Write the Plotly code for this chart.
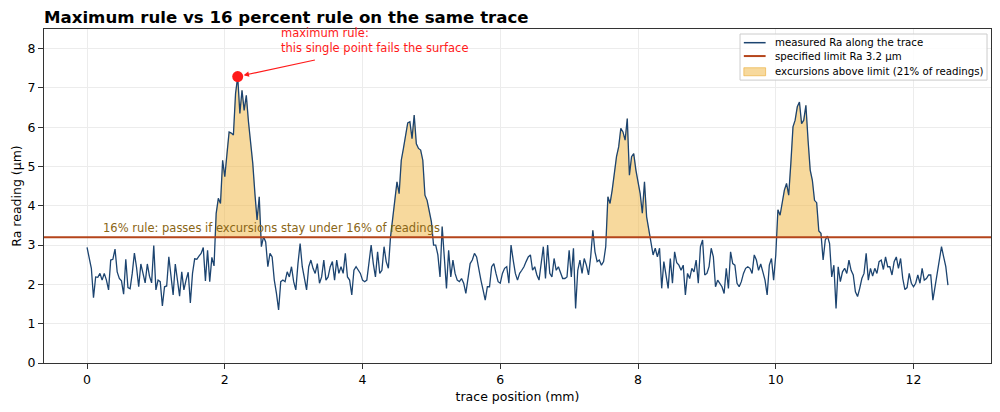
import numpy as np
import plotly.graph_objects as go

# Ra readings along the trace (um), evenly spaced from 0 to 12.5 mm
trace_length_mm = 12.5
ra_readings = [
    2.94, 2.62, 2.41, 1.66, 2.19, 2.18, 2.28, 2.11, 2.28, 2.11,
    1.86, 2.62, 2.64, 2.90, 2.32, 2.15, 2.09, 1.75, 2.64, 1.92,
    1.89, 2.28, 2.80, 2.43, 1.94, 2.52, 2.28, 2.04, 2.52, 2.21,
    2.04, 2.99, 1.86, 2.11, 2.07, 1.45, 1.94, 1.96, 2.70, 2.28,
    1.73, 2.52, 2.03, 1.70, 2.32, 1.86, 2.11, 2.31, 1.53, 2.28,
    2.65, 2.64, 2.72, 2.79, 2.94, 2.09, 2.87, 2.07, 2.69, 2.47,
    3.81, 4.19, 4.06, 5.16, 4.74, 5.42, 5.88, 5.85, 5.80, 6.86,
    7.29, 6.35, 6.94, 6.43, 6.81, 6.14, 5.63, 5.08, 4.31, 3.64,
    4.23, 2.96, 3.21, 3.08, 2.45, 2.79, 2.70, 2.11, 1.77, 1.35,
    2.07, 2.11, 2.07, 2.32, 2.19, 2.45, 2.07, 1.86, 2.53, 3.04,
    2.45, 2.11, 1.86, 2.45, 2.62, 2.41, 2.28, 2.53, 2.03, 2.19,
    2.62, 2.11, 2.19, 2.45, 2.58, 2.11, 2.62, 2.28, 2.45, 2.28,
    2.79, 2.19, 2.11, 1.73, 2.36, 2.45, 2.36, 2.28, 2.11, 2.07,
    2.11, 2.62, 3.00, 2.53, 2.19, 2.83, 2.28, 2.36, 2.96, 2.58,
    2.41, 3.21, 3.64, 4.14, 4.61, 4.31, 5.16, 5.46, 5.80, 6.11,
    6.14, 5.71, 6.31, 5.58, 5.46, 5.42, 5.16, 4.27, 4.14, 3.85,
    3.59, 3.00, 3.00, 2.75, 2.19, 3.47, 2.70, 1.90, 2.87, 2.19,
    2.62, 2.28, 2.11, 2.07, 2.15, 2.03, 1.77, 2.11, 2.53, 2.62,
    2.79, 2.70, 2.36, 2.11, 1.86, 1.60, 1.94, 1.94, 2.45, 2.53,
    2.28, 2.07, 2.03, 2.28, 2.41, 2.45, 2.03, 3.00, 2.62, 2.28,
    2.11, 2.28, 2.36, 2.45, 2.58, 2.70, 2.75, 2.36, 2.45, 2.24,
    2.11, 2.62, 2.96, 2.15, 3.00, 2.28, 2.19, 2.66, 2.36, 2.45,
    2.28, 2.15, 2.15, 2.19, 2.87, 2.19, 2.92, 1.39, 2.36, 2.62,
    2.28, 2.66, 2.49, 2.24, 2.70, 3.38, 2.83, 2.58, 2.62, 2.49,
    2.58, 2.96, 4.23, 4.06, 4.40, 4.82, 5.25, 5.50, 5.97, 5.88,
    5.67, 6.22, 4.78, 5.25, 5.33, 4.91, 4.61, 4.31, 3.81, 4.61,
    3.72, 3.38, 3.13, 2.75, 2.92, 2.70, 2.92, 1.90, 2.58, 2.19,
    1.90, 2.66, 2.03, 2.83, 2.55, 2.49, 2.36, 2.49, 1.73, 2.28,
    2.15, 2.41, 2.32, 2.62, 2.03, 2.96, 3.13, 2.24, 2.28, 2.45,
    2.92, 2.70, 1.94, 2.11, 2.03, 1.94, 1.77, 2.41, 1.90, 2.83,
    2.53, 2.49, 2.03, 1.94, 2.07, 2.28, 2.41, 2.45, 2.41, 2.28,
    2.75, 2.62, 2.36, 2.52, 2.32, 2.11, 1.73, 2.49, 2.66, 2.11,
    2.75, 3.90, 3.76, 4.10, 4.40, 4.57, 4.27, 5.08, 6.01, 6.18,
    6.52, 6.64, 6.09, 6.18, 6.56, 5.67, 4.91, 4.65, 4.14, 4.08,
    3.36, 3.30, 2.62, 3.13, 3.23, 3.04, 2.19, 2.49, 1.39, 2.45,
    2.07, 2.32, 2.41, 2.28, 2.62, 2.36, 2.24, 1.81, 1.69, 1.90,
    2.15, 2.28, 2.79, 2.11, 2.41, 2.21, 2.41, 2.28, 2.58, 2.62,
    2.38, 2.70, 2.45, 2.45, 2.24, 2.58, 2.70, 2.41, 2.66, 2.15,
    1.87, 1.92, 2.28, 2.03, 1.94, 2.03, 2.24, 2.03, 2.41, 2.11,
    2.15, 2.24, 2.24, 1.60, 1.94, 2.36, 2.62, 2.96, 2.70, 2.45,
    1.98,
]
ra_limit = 3.2
x_ticks = [0, 2, 4, 6, 8, 10, 12]
y_ticks = [0, 1, 2, 3, 4, 5, 6, 7, 8]

trace_color = '#1c4470'
limit_color = '#b5451b'
fill_color = 'rgba(240,180,60,0.5)'
fill_edge = 'rgba(235,170,50,0.6)'
red = '#ff1a1a'

ra = np.array(ra_readings)
pos = np.linspace(0, trace_length_mm, len(ra))
above = ra > ra_limit
pct_above = 100 * above.mean()

# build the excursion polygons (fill between trace and limit where trace is above)
fx, fy = [], []
i = 0
n = len(ra)
while i < n:
    if not above[i]:
        i += 1
        continue
    j = i
    while j + 1 < n and above[j + 1]:
        j += 1
    seg_x, seg_y = [], []
    if i > 0:
        t = (ra_limit - ra[i - 1]) / (ra[i] - ra[i - 1])
        seg_x.append(pos[i - 1] + t * (pos[i] - pos[i - 1]))
    else:
        seg_x.append(pos[i])
    seg_y.append(ra_limit)
    seg_x += list(pos[i:j + 1])
    seg_y += list(ra[i:j + 1])
    if j < n - 1:
        t = (ra_limit - ra[j]) / (ra[j + 1] - ra[j])
        seg_x.append(pos[j] + t * (pos[j + 1] - pos[j]))
    else:
        seg_x.append(pos[j])
    seg_y.append(ra_limit)
    fx += seg_x + [None]
    fy += seg_y + [None]
    i = j + 1

peak = int(np.argmax(ra))

fig = go.Figure()

fig.add_trace(go.Scatter(
    x=fx, y=fy, mode='lines', fill='toself',
    fillcolor=fill_color, line=dict(color=fill_edge, width=0.5),
    showlegend=False, hoverinfo='skip'
))

fig.add_trace(go.Scatter(
    x=pos, y=ra, mode='lines',
    line=dict(color=trace_color, width=1.3),
    showlegend=False
))

fig.add_trace(go.Scatter(
    x=[-0.625, 13.125], y=[ra_limit, ra_limit], mode='lines',
    line=dict(color=limit_color, width=2),
    showlegend=False
))

fig.add_trace(go.Scatter(
    x=[pos[peak]], y=[ra[peak]], mode='markers',
    marker=dict(color=red, size=11),
    showlegend=False
))

# arrow to the worst reading
fig.add_annotation(
    x=pos[peak], y=ra[peak], ax=3.33, ay=7.72, axref='x', ayref='y',
    text='', showarrow=True, arrowhead=2, arrowsize=0.9, arrowwidth=1.2,
    arrowcolor=red, standoff=6
)
fig.add_annotation(
    x=2.78, y=8.22, xanchor='left', yanchor='middle', showarrow=False,
    text='maximum rule:<br>this single point fails the surface', align='left',
    font=dict(family='DejaVu Sans', size=11.5, color=red)
)
fig.add_annotation(
    x=0.2, y=3.43, xanchor='left', yanchor='middle', showarrow=False,
    text='16% rule: passes if excursions stay under 16% of readings',
    font=dict(family='DejaVu Sans', size=11.5, color='#8a6616')
)

# legend drawn by hand (matplotlib-style compact spacing)
legend_labels = [
    'measured Ra along the trace',
    f'specified limit Ra {ra_limit} µm',
    f'excursions above limit ({pct_above:.0f}% of readings)',
]
fig.add_shape(type='rect', xref='paper', yref='paper',
              x0=0.735, x1=0.9958, y0=0.847, y1=0.985,
              fillcolor='rgba(255,255,255,0.85)',
              line=dict(color='#cccccc', width=1))
row_y = [0.959, 0.919, 0.872]
fig.add_shape(type='line', xref='paper', yref='paper',
              x0=0.739, x1=0.762, y0=row_y[0], y1=row_y[0],
              line=dict(color=trace_color, width=1.5))
fig.add_shape(type='line', xref='paper', yref='paper',
              x0=0.739, x1=0.762, y0=row_y[1], y1=row_y[1],
              line=dict(color=limit_color, width=2))
fig.add_shape(type='rect', xref='paper', yref='paper',
              x0=0.739, x1=0.762, y0=row_y[2] - 0.012, y1=row_y[2] + 0.012,
              fillcolor=fill_color, line=dict(color=fill_edge, width=1))
for label, yy in zip(legend_labels, row_y):
    fig.add_annotation(
        x=0.770, y=yy, xref='paper', yref='paper', xanchor='left',
        yanchor='middle', showarrow=False, text=label,
        font=dict(family='DejaVu Sans', size=10.2, color='black')
    )

# the page adds an 8px body margin, so the canvas is sized to fit the window
fig.update_layout(
    width=992, height=404,
    margin=dict(l=36, r=9, t=21, b=49),
    paper_bgcolor='white', plot_bgcolor='white',
    font=dict(family='DejaVu Sans', size=12.5, color='black'),
    title=dict(
        text='Maximum rule vs 16 percent rule on the same trace',
        font=dict(family='DejaVu Sans', size=16.6, weight='bold', color='black'),
        x=36 / 992, xanchor='left', y=0.978, yanchor='middle', xref='container'
    ),
    showlegend=False
)

fig.update_xaxes(
    range=[-0.625, 13.125], tickvals=x_ticks, automargin=False,
    title=dict(text='trace position (mm)', standoff=6, font=dict(size=12.5)),
    showgrid=True, gridcolor='#ececec', gridwidth=1, zeroline=False,
    showline=True, linecolor='#333333', linewidth=1.3, mirror=True,
    ticks='outside', ticklen=5, tickcolor='#333333', tickfont=dict(size=12.5)
)
fig.update_yaxes(
    range=[0, 8.5], tickvals=y_ticks, automargin=False,
    title=dict(text='Ra reading (µm)', standoff=3, font=dict(size=12.5)),
    showgrid=True, gridcolor='#ececec', gridwidth=1, zeroline=False,
    showline=True, linecolor='#333333', linewidth=1.3, mirror=True,
    ticks='outside', ticklen=5, tickcolor='#333333', tickfont=dict(size=12.5)
)

fig.write_html('out.html')
